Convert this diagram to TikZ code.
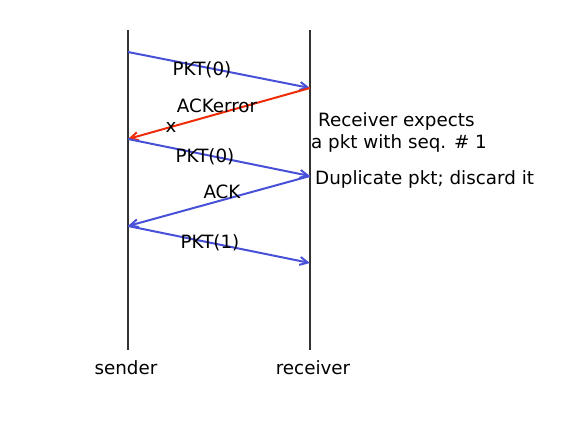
\documentclass[tikz,border=0pt]{standalone}
\usepackage{fontspec}
\setmainfont{DejaVu Sans}
\usetikzlibrary{arrows.meta}
\definecolor{msgblue}{RGB}{72,80,216}
\definecolor{msgred}{RGB}{238,44,8}
\begin{document}
\begin{tikzpicture}[
    x=1pt, y=-1pt,
    font=\fontsize{18.3}{22}\selectfont,
    lifeline/.style={draw=black!80, line width=1.2pt},
    msg/.style={draw=msgblue, line width=2pt, -{Straight Barb[length=8pt,width=8pt]}},
    lost/.style={msg, draw=msgred},
    msglabel/.style={inner sep=0pt},
    note/.style={anchor=west, inner sep=0pt, align=left},
  ]
  \useasboundingbox (0,0) rectangle (562,429);

  % Lifelines of sender and receiver.
  \coordinate (stop) at (128,30);
  \coordinate (sbot) at (128,350);
  \coordinate (rtop) at (310,30);
  \coordinate (rbot) at (310,350);
  \draw[lifeline] (stop) -- (sbot);
  \draw[lifeline] (rtop) -- (rbot);

  \node (sname) at (126,368) {sender};
  \node (rname) at (313,368) {receiver};

  % Event points on the lifelines.
  \coordinate (s1) at (128,52);
  \coordinate (r1) at (310,88);
  \coordinate (s2) at (128,139);
  \coordinate (r2) at (310,176);
  \coordinate (s3) at (128,226);
  \coordinate (r3) at (310,263);

  % Messages.
  \draw[msg]  (s1) -- (r1);
  \draw[lost] (r1) -- (s2);
  \draw[msg]  (s2) -- (r2);
  \draw[msg]  (r2) -- (s3);
  \draw[msg]  (s3) -- (r3);

  \node[msglabel] (pkt0a) at (202,70) {PKT(0)};
  \node[msglabel] (ackerr) at (217,106) {ACKerror};
  \node[msglabel] (cross) at (171,127) {x};
  \node[msglabel] (pkt0b) at (205,157) {PKT(0)};
  \node[msglabel] (ack) at (222,192) {ACK};
  \node[msglabel] (pkt1) at (210,243) {PKT(1)};

  % Receiver side remarks.
  \node[note] (expect) at (311,132) {\hspace{7pt}Receiver expects\\a pkt with seq. \# 1};
  \node[note] (dup) at (315,179) {Duplicate pkt; discard it};
\end{tikzpicture}
\end{document}
